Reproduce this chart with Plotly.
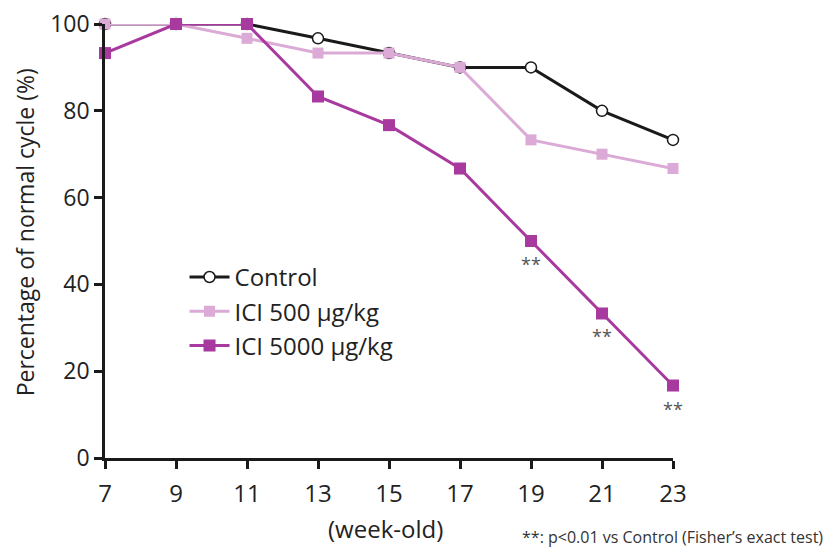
import plotly.graph_objects as go

weeks = [7, 9, 11, 13, 15, 17, 19, 21, 23]
control = [100, 100, 100, 96.7, 93.3, 90, 90, 80, 73.3]
ici500 = [100, 100, 96.7, 93.3, 93.3, 90, 73.3, 70, 66.7]
ici5000 = [93.3, 100, 100, 83.3, 76.7, 66.7, 50, 33.3, 16.7]
sig_weeks = [19, 21, 23]
sig_values = [50, 33.3, 16.7]
y_ticks = [0, 20, 40, 60, 80, 100]

FONT = "Open Sans"
fig = go.Figure()
fig.add_trace(go.Scatter(x=weeks, y=control, name="Control", mode="lines+markers",
                         line=dict(color="#1a1a1a", width=3),
                         marker=dict(symbol="circle", size=11, color="white",
                                     line=dict(color="#1a1a1a", width=1.5))))
fig.add_trace(go.Scatter(x=weeks, y=ici500, name="ICI 500 µg/kg", mode="lines+markers",
                         line=dict(color="#dcaad6", width=3),
                         marker=dict(symbol="square", size=11, color="#dcaad6")))
fig.add_trace(go.Scatter(x=weeks, y=ici5000, name="ICI 5000 µg/kg", mode="lines+markers",
                         line=dict(color="#a8399f", width=3),
                         marker=dict(symbol="square", size=12, color="#a8399f")))

for wx, wy in zip(sig_weeks, sig_values):
    fig.add_annotation(x=wx, y=wy, text="**", showarrow=False, yshift=-23,
                       font=dict(family=FONT, size=18, color="#555555"))

fig.add_annotation(x=1.0, xref="paper", y=-0.182, yref="paper", xanchor="right",
                   xshift=152, yanchor="middle",
                   text="**: p<0.01 vs Control (Fisher’s exact test)", showarrow=False,
                   font=dict(family=FONT, size=16, color="#333333"))

# axis titles as annotations for precise placement
fig.add_annotation(x=0.493, xref="paper", y=-0.162, yref="paper", xanchor="center",
                   yanchor="middle", text="(week-old)", showarrow=False,
                   font=dict(family=FONT, size=24, color="#222222"))
fig.add_annotation(x=0, xref="paper", xshift=-80, y=0.52, yref="paper",
                   xanchor="center", yanchor="middle", textangle=-90,
                   text="Percentage of normal cycle (%)", showarrow=False,
                   font=dict(family=FONT, size=23, color="#222222"))

fig.update_traces(cliponaxis=False)
fig.update_layout(
    width=833, height=553,
    margin=dict(l=97, r=168, t=16, b=103, autoexpand=False),
    paper_bgcolor="white", plot_bgcolor="white",
    font=dict(family=FONT, color="#222222"),
    showlegend=True,
    legend=dict(x=0.14, y=0.468, xanchor="left", yanchor="top",
                font=dict(family=FONT, size=24, color="#222222"),
                bgcolor="rgba(0,0,0,0)", itemwidth=40, tracegroupgap=0),
    xaxis=dict(range=[7, 23], tickvals=weeks, showgrid=False, zeroline=False,
               automargin=False, ticklabeloverflow="allow",
               showline=True, linecolor="#1a1a1a", linewidth=2.5,
               ticks="outside", ticklen=8, tickwidth=2.5, tickcolor="#1a1a1a",
               ticklabelstandoff=4,
               tickfont=dict(family=FONT, size=24, color="#222222")),
    yaxis=dict(range=[0, 100], tickvals=y_ticks, showgrid=False, zeroline=False,
               automargin=False, ticklabeloverflow="allow",
               showline=True, linecolor="#1a1a1a", linewidth=2.5,
               ticks="outside", ticklen=8, tickwidth=2.5, tickcolor="#1a1a1a",
               tickfont=dict(family=FONT, size=23, color="#222222")),
)
fig.write_html("out.html")
